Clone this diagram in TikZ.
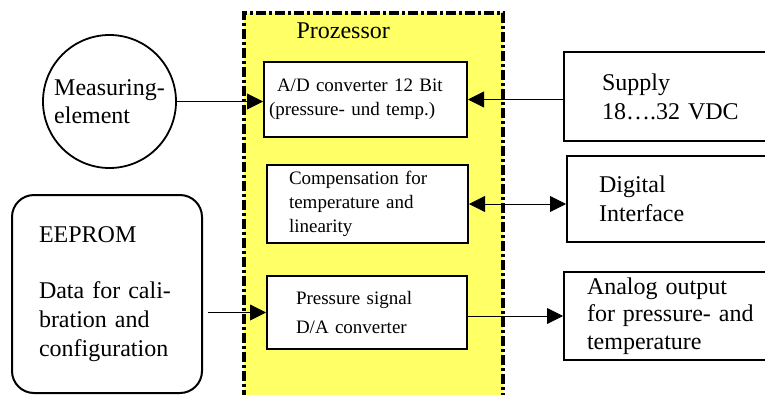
\documentclass[tikz,border=0pt]{standalone}
\usepackage{fontspec}
\setmainfont{Liberation Serif}
\definecolor{ProcYellow}{RGB}{255,255,102}
\usetikzlibrary{arrows.meta, shapes.geometric, positioning, calc}

\begin{document}
\begin{tikzpicture}[
    x=1pt,y=-1pt,
    bigtxt/.style={font=\fontsize{24}{29}\selectfont},
    smalltxt/.style={font=\fontsize{19}{24}\selectfont},
    blk/.style={rectangle,draw=black,line width=2pt,fill=white,
                align=left,inner ysep=0pt},
    procframe/.style={draw=black,line width=3.6pt,fill=ProcYellow,
                      dash pattern=on 10pt off 3pt on 3pt off 3pt},
    arr/.style={-{Triangle[length=16pt,width=16pt]},draw=black,line width=0.8pt},
    darr/.style={{Triangle[length=16pt,width=16pt]}-{Triangle[length=16pt,width=16pt]},
                 draw=black,line width=0.8pt}
  ]
  \useasboundingbox (0,0) rectangle (765,394);
  % processor area
  \draw[procframe] (244,400) -- (244,13) -- (503,13) -- (503,400);
  \node[bigtxt,anchor=base west] (proctitle) at (293,38) {Prozessor};

  \node[blk,smalltxt,text width=193pt,inner xsep=5pt,minimum height=75pt] (adc) at (365.5,99.5)
       {\hspace*{8pt}A/D converter 12 Bit\\(pressure- und temp.)};
  \node[blk,smalltxt,text width=157pt,inner xsep=22pt,minimum height=78pt] (comp) at (367.5,204)
       {Compensation for\\temperature and\\linearity};
  \node[blk,text width=142pt,inner xsep=29pt,minimum height=73pt,
        font=\fontsize{19}{29}\selectfont] (press) at (367,312.5)
       {Pressure signal\\D/A converter};

  % outside blocks
  \node[circle,draw=black,line width=1.8pt,minimum size=133pt,inner sep=0pt,align=left,
        font=\fontsize{24}{28}\selectfont] (meas) at (109.5,101.5) {Measuring-\\element};
  \node[blk,bigtxt,rounded corners=22pt,text width=136pt,inner xsep=27pt,minimum height=198pt]
       (eeprom) at (107,294) {EEPROM\\[27pt]Data for cali-\\bration and\\configuration};
  \node[blk,bigtxt,text width=160pt,inner xsep=38pt,minimum height=89pt] (supply) at (682,96.5)
       {Supply\\18….32 VDC};
  \node[blk,bigtxt,text width=169pt,inner xsep=32pt,minimum height=86pt] (digital) at (683.5,199)
       {Digital\\Interface};
  \node[blk,text width=190pt,inner xsep=23pt,minimum height=88pt,
        font=\fontsize{24}{27.5}\selectfont] (analog) at (682,316)
       {Analog output\\for pressure- and\\temperature};

  \draw[arr](meas.east)--(meas.east -| adc.west);
  \draw[arr](supply.west |- adc.east)--(adc.east);
  \draw[darr](comp.east)--(comp.east -| digital.west);
  \draw[arr]([xshift=5pt]eeprom.east |- press.west)--(press.west);
  \draw[arr](press.east |- analog.west)--(analog.west);
\end{tikzpicture}
\end{document}
